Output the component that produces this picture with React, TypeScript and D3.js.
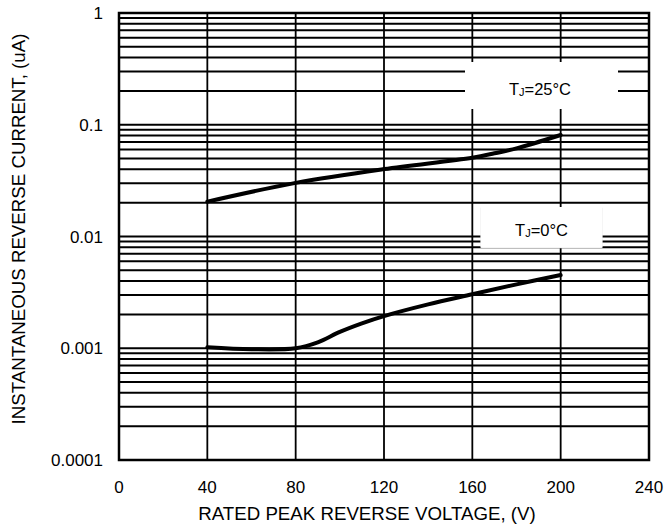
import React from "react";
import * as d3 from "d3";

const xTicks = [0, 40, 80, 120, 160, 200, 240];
const yTicks = [0.0001, 0.001, 0.01, 0.1, 1];
const yTickLabels = ["0.0001", "0.001", "0.01", "0.1", "1"];

const voltage25 = [40, 80, 120, 160, 170, 180, 200];
const current25 = [0.0205, 0.0302, 0.0401, 0.0507, 0.0555, 0.0615, 0.081];

const voltage0 = [40, 60, 80, 90, 100, 110, 120, 140, 160, 180, 200];
const current0 = [0.00102, 0.00098, 0.001, 0.00113, 0.0014, 0.00167, 0.00194, 0.00247, 0.00304, 0.00373, 0.00452];

const W = 665;
const H = 529;
const M = { left: 119, top: 13, right: 16, bottom: 69 };

export default function App() {
  const x = d3.scaleLinear().domain([0, 240]).range([M.left, W - M.right]);
  const y = d3.scaleLog().domain([0.0001, 1]).range([H - M.bottom, M.top]);

  const minor: number[] = [];
  for (let e = -4; e < 0; e++) {
    for (let m = 1; m <= 10; m++) {
      const v = m * Math.pow(10, e);
      if (v > 0.0001 * 1.0001 && v < 0.9999) minor.push(+v.toPrecision(3));
    }
  }
  const gridVals = Array.from(new Set(minor));

  const line = d3
    .line<[number, number]>()
    .x((d) => x(d[0]))
    .y((d) => y(d[1]))
    .curve(d3.curveCatmullRom.alpha(0.5));

  const d25 = line(voltage25.map((v, i) => [v, current25[i]] as [number, number])) || "";
  const d0 = line(voltage0.map((v, i) => [v, current0[i]] as [number, number])) || "";

  const font = "'Liberation Sans', Arial, sans-serif";
  const x0 = x(0);
  const x1 = x(240);
  const yTop = y(1);
  const yBot = y(0.0001);

  return (
    <svg
      width={W}
      height={H}
      style={{ display: "block", position: "absolute", left: 0, top: 0 }}
      fontFamily={font}
    >
      <rect x={0} y={0} width={W} height={H} fill="#fff" />
      <g>
        {gridVals.map((v) => (
          <line key={"h" + v} x1={x0} x2={x1} y1={y(v)} y2={y(v)} stroke="#000" strokeWidth={2} />
        ))}
        {xTicks.slice(1, -1).map((v) => (
          <line key={"v" + v} x1={x(v)} x2={x(v)} y1={yTop} y2={yBot} stroke="#000" strokeWidth={1.8} />
        ))}
        <rect x={x0} y={yTop} width={x1 - x0} height={yBot - yTop} fill="none" stroke="#000" strokeWidth={2.5} />
      </g>
      {/* label boxes */}
      <rect x={465} y={62} width={153} height={47} fill="#fff" />
      <text x={540} y={95} fontSize={16.5} textAnchor="middle">
        T<tspan fontSize={11} dy={1}>J</tspan>
        <tspan dy={-1}>=25°C</tspan>
      </text>
      <rect x={481} y={208} width={121} height={40} fill="#fff" stroke="#bbb" strokeWidth={0.6} />
      <rect x={480.5} y={207} width={122} height={40.5} fill="#fff" />
      <text x={541.5} y={235.5} fontSize={16.5} textAnchor="middle">
        T<tspan fontSize={11} dy={1}>J</tspan>
        <tspan dy={-1}>=0°C</tspan>
      </text>
      <path d={d25} fill="none" stroke="#000" strokeWidth={4} strokeLinecap="round" />
      <path d={d0} fill="none" stroke="#000" strokeWidth={4} strokeLinecap="round" />
      {xTicks.map((v) => (
        <text key={"xt" + v} x={x(v)} y={493} fontSize={17} textAnchor="middle">
          {v}
        </text>
      ))}
      {yTicks.map((v, i) => (
        <text key={"yt" + v} x={103} y={y(v) + 6} fontSize={17} textAnchor="end">
          {yTickLabels[i]}
        </text>
      ))}
      <text x={367} y={520} fontSize={18.7} textAnchor="middle">
        RATED PEAK REVERSE VOLTAGE, (V)
      </text>
      <text transform={`translate(25,229) rotate(-90)`} fontSize={18.7} textAnchor="middle">
        INSTANTANEOUS REVERSE CURRENT, (uA)
      </text>
    </svg>
  );
}
